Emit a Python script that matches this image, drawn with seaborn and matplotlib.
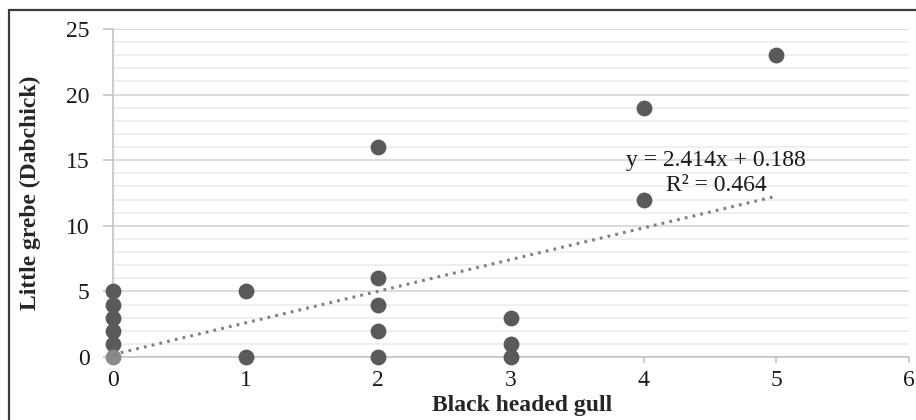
import matplotlib
matplotlib.use("Agg")
import matplotlib.pyplot as plt
from matplotlib.lines import Line2D
from matplotlib.ticker import MultipleLocator
import numpy as np
import pandas as pd
import seaborn as sns

# Counts per site: Black headed gull (x) vs Little grebe (y)
gull = [0, 0, 0, 0, 0, 1, 1, 2, 2, 2, 2, 2, 3, 3, 3, 4, 4, 5]
grebe = [1, 2, 3, 4, 5, 0, 5, 0, 2, 4, 6, 16, 0, 1, 3, 12, 19, 23]
# site with zero of both, drawn in a lighter shade
zero_gull = [0]
zero_grebe = [0]

# linear trend reported for the data
slope = 2.414
intercept = 0.188
r_squared = 0.464
trend_x = [0, 5]

x_ticks = [0, 1, 2, 3, 4, 5, 6]
y_ticks = [0, 5, 10, 15, 20, 25]

sns.set_theme(style="white")
plt.rcParams["font.family"] = ["Liberation Serif", "DejaVu Serif"]

W, H = 916, 420
L, R, T, B = 113, 909, 29, 357

fig = plt.figure(figsize=(W / 100, H / 100), dpi=100)
ax = fig.add_axes([L / W, 1 - B / H, (R - L) / W, (B - T) / H])

df = pd.DataFrame({"gull": gull, "grebe": grebe})
df0 = pd.DataFrame({"gull": zero_gull, "grebe": zero_grebe})

sns.scatterplot(data=df, x="gull", y="grebe", ax=ax, color="#5a5a5a",
                s=130, linewidth=0, zorder=3, clip_on=False)
sns.scatterplot(data=df0, x="gull", y="grebe", ax=ax, color="#8a8a8a",
                s=130, linewidth=0, zorder=4, clip_on=False)

tx = np.array(trend_x, dtype=float)
ax.plot(tx, slope * tx + intercept, linestyle=(0, (0.9, 1.7)), color="#7f7f7f",
        linewidth=2.2, dash_capstyle="butt", zorder=5)

ax.set_xlim(0, 6)
ax.set_ylim(0, 25)
ax.set_xticks(x_ticks)
ax.set_yticks(y_ticks)
ax.yaxis.set_minor_locator(MultipleLocator(1))

ax.grid(which="major", axis="y", color="#d6d6d6", linewidth=1.2, zorder=0)
ax.grid(which="minor", axis="y", color="#ececec", linewidth=1.2, zorder=0)
ax.set_axisbelow(True)

for side in ("top", "right"):
    ax.spines[side].set_visible(False)
for side in ("left", "bottom"):
    ax.spines[side].set_visible(True)
    ax.spines[side].set_color("#c4c4c4")
    ax.spines[side].set_linewidth(1.2)

ax.tick_params(axis="y", which="major", direction="out", length=7, width=1.2,
               color="#c4c4c4", left=True, labelsize=17, pad=10, labelcolor="#1a1a1a")
ax.tick_params(axis="y", which="minor", left=False)
ax.tick_params(axis="x", which="major", direction="out", length=4, width=1.2,
               color="#c4c4c4", bottom=True, labelsize=17, pad=5, labelcolor="#1a1a1a")

ax.set_xlabel("Black headed gull", fontsize=17, fontweight="bold")
ax.set_ylabel("Little grebe (Dabchick)", fontsize=17, fontweight="bold")
ax.xaxis.set_label_coords((522 - L) / (R - L), -(395 - B) / (B - T))
ax.yaxis.set_label_coords(-(L - 41) / (R - L), (B - 193) / (B - T))

ax.text(4.545, 15.0, f"y = {slope}x + {intercept}", fontsize=17, ha="center",
        va="center", color="#1a1a1a", zorder=6)
ax.text(4.55, 13.1, f"R² = {r_squared}", fontsize=17, ha="center",
        va="center", color="#1a1a1a", zorder=6)

# outer frame along the left and top edges
fig.add_artist(Line2D([8.5 / W, 8.5 / W], [0, 1 - 9.5 / H],
                      transform=fig.transFigure, color="#3a3a3a", linewidth=1.6))
fig.add_artist(Line2D([8.5 / W, 1], [1 - 9.5 / H, 1 - 9.5 / H],
                      transform=fig.transFigure, color="#3a3a3a", linewidth=1.6))

fig.savefig("out.png", dpi=100)
